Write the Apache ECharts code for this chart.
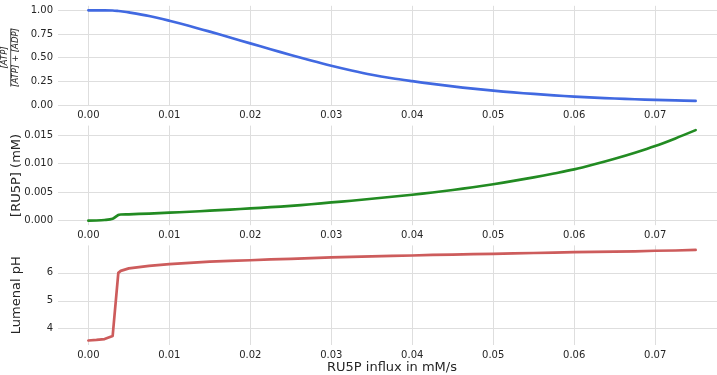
<!DOCTYPE html>
<html>
<head>
<meta charset="utf-8">
<script src="https://cdn.jsdelivr.net/npm/echarts@6/dist/echarts.min.js"></script>
<style>
  html, body { margin: 0; padding: 0; background: #fff; }
  #chart { width: 717px; height: 375px; }
</style>
</head>
<body>
<div id="chart"></div>
<script>
// RU5P influx (mM/s) sampled along the scan
const influx = [0, 0.001, 0.002, 0.003, 0.0037, 0.004, 0.005, 0.0075, 0.01, 0.0125,
  0.015, 0.0175, 0.02, 0.0225, 0.025, 0.0275, 0.03, 0.0325, 0.035, 0.0375,
  0.04, 0.0425, 0.045, 0.0475, 0.05, 0.0525, 0.055, 0.0575, 0.06, 0.0625,
  0.065, 0.0675, 0.07, 0.0725, 0.075];

// ATP / (ATP + ADP)
const atpRatio = [1.0, 1.0, 1.0, 0.998, 0.993, 0.99, 0.978, 0.94, 0.89, 0.835,
  0.775, 0.713, 0.651, 0.589, 0.528, 0.47, 0.415, 0.365, 0.32, 0.283,
  0.252, 0.223, 0.197, 0.173, 0.152, 0.133, 0.117, 0.102, 0.089, 0.078,
  0.069, 0.061, 0.055, 0.049, 0.044];

// [RU5P] in mM
const ru5p = [0, 0.00003, 0.00012, 0.00035, 0.00100, 0.00108, 0.00112, 0.00125, 0.0014, 0.00157,
  0.00175, 0.00195, 0.00215, 0.00237, 0.0026, 0.00288, 0.0032, 0.0035, 0.00385, 0.0042,
  0.00455, 0.00495, 0.00539, 0.00587, 0.0064, 0.00698, 0.0076, 0.00828, 0.0090, 0.0099,
  0.01088, 0.01194, 0.0131, 0.01445, 0.0159];

// Lumenal pH
const lumenPH = [3.58, 3.60, 3.63, 3.74, 6.0, 6.07, 6.16, 6.25, 6.31, 6.36,
  6.40, 6.43, 6.45, 6.48, 6.50, 6.53, 6.55, 6.57, 6.59, 6.61,
  6.62, 6.64, 6.65, 6.67, 6.68, 6.70, 6.71, 6.72, 6.74, 6.75,
  6.76, 6.77, 6.79, 6.80, 6.82];

// tick values
const xTicks = [0, 0.01, 0.02, 0.03, 0.04, 0.05, 0.06, 0.07];
const atpTicks = [0, 0.25, 0.5, 0.75, 1.0];
const ru5pTicks = [0, 0.005, 0.01, 0.015];
const phTicks = [4, 5, 6];

// 5% padding around the data range on each side
function padded(vals) {
  const lo = Math.min.apply(null, vals), hi = Math.max.apply(null, vals);
  const m = (hi - lo) * 0.05;
  return [lo - m, hi + m];
}

const xLim = padded(influx);
const FONT = 'DejaVu Sans';
const TXT = '#262626';
const GRID = '#dedede';

function pairs(ys) { return influx.map((x, i) => [x, ys[i]]); }

function panel(top) {
  return { left: 58, right: -9, top: top, height: 99.6, containLabel: false, outerBoundsMode: 'none' };
}
const grids = [panel(5.8), panel(125.6), panel(245.4)];

function xAxis(idx, withName) {
  const ax = {
    type: 'value', gridIndex: idx, min: xLim[0], max: xLim[1],
    axisLine: { show: false },
    axisTick: { show: false, customValues: xTicks },
    axisLabel: { customValues: xTicks, margin: 5, color: TXT, fontFamily: FONT, fontSize: 10,
      formatter: v => v.toFixed(2) },
    splitLine: { show: true, lineStyle: { color: GRID, width: 1 } }
  };
  if (withName) {
    ax.name = 'RU5P influx in mM/s';
    ax.nameLocation = 'middle';
    ax.nameGap = 16;
    ax.nameMoveOverlap = false;
    ax.nameTextStyle = { color: TXT, fontFamily: FONT, fontSize: 13 };
  }
  return ax;
}

function yAxis(idx, vals, ticks, digits, name, gap) {
  const lim = padded(vals);
  return {
    type: 'value', gridIndex: idx, min: lim[0], max: lim[1],
    name: name, nameLocation: 'middle', nameGap: gap, nameMoveOverlap: false,
    nameTextStyle: { color: TXT, fontFamily: FONT, fontSize: 13 },
    axisLine: { show: false },
    axisTick: { show: false, customValues: ticks },
    axisLabel: { customValues: ticks, margin: 5, color: TXT, fontFamily: FONT, fontSize: 10,
      formatter: v => v.toFixed(digits) },
    splitLine: { show: true, lineStyle: { color: GRID, width: 1 } }
  };
}

function lineSeries(idx, ys, color, smooth) {
  return {
    type: 'line', xAxisIndex: idx, yAxisIndex: idx, data: pairs(ys),
    showSymbol: false, symbol: 'none', clip: false, animation: false,
    smooth: smooth,
    lineStyle: { color: color, width: 2.7, cap: 'round', join: 'round' }
  };
}

const chart = echarts.init(document.getElementById('chart'), null, { renderer: 'canvas' });
chart.setOption({
  backgroundColor: '#ffffff',
  animation: false,
  grid: grids,
  xAxis: [xAxis(0, false), xAxis(1, false), xAxis(2, true)],
  yAxis: [
    yAxis(0, atpRatio, atpTicks, 2, '', 0),
    yAxis(1, ru5p, ru5pTicks, 3, '[RU5P] (mM)', 35),
    yAxis(2, lumenPH, phTicks, 0, 'Lumenal pH', 35)
  ],
  series: [
    lineSeries(0, atpRatio, '#4169e1', 0.3),
    lineSeries(1, ru5p, '#228b22', 0.3),
    lineSeries(2, lumenPH, '#cd5c5c', false)
  ],
  graphic: [{
    type: 'group', x: 10.7, y: 57.5, rotation: Math.PI / 2,
    children: [
      { type: 'text', x: 0, y: -1, style: { text: '[ATP]', fontFamily: FONT, fontStyle: 'italic',
          fontSize: 8.5, fill: TXT, align: 'center', verticalAlign: 'bottom' } },
      { type: 'line', shape: { x1: -29, y1: 0, x2: 29, y2: 0 }, style: { stroke: TXT, lineWidth: 0.8 } },
      { type: 'text', x: 0, y: 1, style: { text: '[ATP] + [ADP]', fontFamily: FONT, fontStyle: 'italic',
          fontSize: 8.5, fill: TXT, align: 'center', verticalAlign: 'top' } }
    ]
  }]
});
</script>
</body>
</html>
